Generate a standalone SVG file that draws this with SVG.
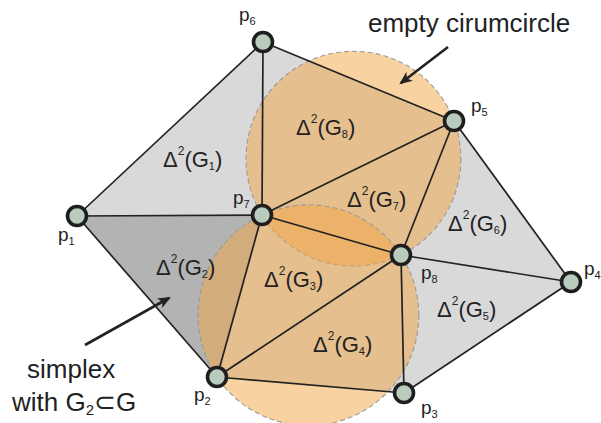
<svg xmlns="http://www.w3.org/2000/svg" width="601" height="423" viewBox="0 0 601 423">
<style>
.tri{fill:#d9d9da;stroke:none}
.tri2{fill:#b3b3b3;stroke:none}
.cc{fill:#f4a544;fill-opacity:0.5;stroke:#9a9a9a;stroke-width:1.1;stroke-dasharray:5 3}
.e{stroke:#222;stroke-width:1.7;fill:none}
.node{fill:#b8cbbc;stroke:#1e1e1e;stroke-width:3.6}
.lbl{font-family:"Liberation Sans",Arial,sans-serif;font-size:22px;fill:#222}
.pl{font-family:"Liberation Sans",Arial,sans-serif;font-size:19px;fill:#222}
.ann{font-family:"Liberation Sans",Arial,sans-serif;font-size:26px;fill:#222}
.arr{stroke:#222;stroke-width:2.6;fill:none}
</style>
<defs>
<marker id="ah" viewBox="0 0 12 10" refX="10" refY="5" markerWidth="5" markerHeight="5" markerUnits="strokeWidth" orient="auto">
<path d="M0,0 L12,5 L0,10 L3,5 z" fill="#222"/>
</marker>
</defs>
<g id="faces">
<polygon class="tri" points="77,216 263,42 262,215"/>
<polygon class="tri2" points="77,216 262,215 217,377"/>
<polygon class="tri" points="262,215 401,255 217,377"/>
<polygon class="tri" points="217,377 401,255 404,393"/>
<polygon class="tri" points="401,255 571,282 404,393"/>
<polygon class="tri" points="401,255 454,121 571,282"/>
<polygon class="tri" points="262,215 454,121 401,255"/>
<polygon class="tri" points="262,215 263,42 454,121"/>
</g>
<g id="circumcircles">
<circle class="cc" cx="353.45" cy="158.7" r="107.4"/>
<circle class="cc" cx="308.4" cy="315.2" r="110.4"/>
</g>
<g id="connectors">
<line class="e" x1="77" y1="216" x2="263" y2="42"/>
<line class="e" x1="263" y1="42" x2="262" y2="215"/>
<line class="e" x1="263" y1="42" x2="454" y2="121"/>
<line class="e" x1="77" y1="216" x2="262" y2="215"/>
<line class="e" x1="77" y1="216" x2="217" y2="377"/>
<line class="e" x1="262" y1="215" x2="217" y2="377"/>
<line class="e" x1="262" y1="215" x2="454" y2="121"/>
<line class="e" x1="262" y1="215" x2="401" y2="255"/>
<line class="e" x1="454" y1="121" x2="401" y2="255"/>
<line class="e" x1="454" y1="121" x2="571" y2="282"/>
<line class="e" x1="401" y1="255" x2="571" y2="282"/>
<line class="e" x1="401" y1="255" x2="217" y2="377"/>
<line class="e" x1="401" y1="255" x2="404" y2="393"/>
<line class="e" x1="217" y1="377" x2="404" y2="393"/>
<line class="e" x1="404" y1="393" x2="571" y2="282"/>
<line class="arr" x1="448" y1="47" x2="401" y2="83" marker-end="url(#ah)"/>
<line class="arr" x1="85" y1="345" x2="169" y2="298" marker-end="url(#ah)"/>
</g>
<g id="p1"><circle class="node" cx="77" cy="216" r="9.5"/><text class="pl" x="58" y="241">p<tspan dy="4" font-size="11">1</tspan></text></g>
<g id="p2"><circle class="node" cx="217" cy="377" r="9.5"/><text class="pl" x="194" y="401">p<tspan dy="4" font-size="11">2</tspan></text></g>
<g id="p3"><circle class="node" cx="404" cy="393" r="9.5"/><text class="pl" x="421" y="414">p<tspan dy="4" font-size="11">3</tspan></text></g>
<g id="p4"><circle class="node" cx="571" cy="282" r="9.5"/><text class="pl" x="584" y="275">p<tspan dy="4" font-size="11">4</tspan></text></g>
<g id="p5"><circle class="node" cx="454" cy="121" r="9.5"/><text class="pl" x="471" y="112">p<tspan dy="4" font-size="11">5</tspan></text></g>
<g id="p6"><circle class="node" cx="263" cy="42" r="9.5"/><text class="pl" x="239" y="21">p<tspan dy="4" font-size="11">6</tspan></text></g>
<g id="p7"><circle class="node" cx="262" cy="215" r="9.5"/><text class="pl" x="233" y="204">p<tspan dy="4" font-size="11">7</tspan></text></g>
<g id="p8"><circle class="node" cx="401" cy="255" r="9.5"/><text class="pl" x="421" y="279">p<tspan dy="4" font-size="11">8</tspan></text></g>
<g id="labels">
<text class="lbl" x="163" y="167">Δ<tspan dy="-12" font-size="12">2</tspan><tspan dy="12">(G</tspan><tspan dy="3" font-size="11">1</tspan><tspan dy="-3">)</tspan></text>
<text class="lbl" x="156" y="275">Δ<tspan dy="-12" font-size="12">2</tspan><tspan dy="12">(G</tspan><tspan dy="3" font-size="11">2</tspan><tspan dy="-3">)</tspan></text>
<text class="lbl" x="264" y="287">Δ<tspan dy="-12" font-size="12">2</tspan><tspan dy="12">(G</tspan><tspan dy="3" font-size="11">3</tspan><tspan dy="-3">)</tspan></text>
<text class="lbl" x="313" y="352">Δ<tspan dy="-12" font-size="12">2</tspan><tspan dy="12">(G</tspan><tspan dy="3" font-size="11">4</tspan><tspan dy="-3">)</tspan></text>
<text class="lbl" x="437" y="317">Δ<tspan dy="-12" font-size="12">2</tspan><tspan dy="12">(G</tspan><tspan dy="3" font-size="11">5</tspan><tspan dy="-3">)</tspan></text>
<text class="lbl" x="448" y="231">Δ<tspan dy="-12" font-size="12">2</tspan><tspan dy="12">(G</tspan><tspan dy="3" font-size="11">6</tspan><tspan dy="-3">)</tspan></text>
<text class="lbl" x="347" y="207">Δ<tspan dy="-12" font-size="12">2</tspan><tspan dy="12">(G</tspan><tspan dy="3" font-size="11">7</tspan><tspan dy="-3">)</tspan></text>
<text class="lbl" x="296" y="135">Δ<tspan dy="-12" font-size="12">2</tspan><tspan dy="12">(G</tspan><tspan dy="3" font-size="11">8</tspan><tspan dy="-3">)</tspan></text>
<text class="ann" x="368" y="32">empty cirumcircle</text>
<text class="ann" x="27" y="378">simplex</text>
<text class="ann" x="12" y="411">with G<tspan dy="4" font-size="15">2</tspan><tspan dy="-4">⊂G</tspan></text>
</g>
</svg>
